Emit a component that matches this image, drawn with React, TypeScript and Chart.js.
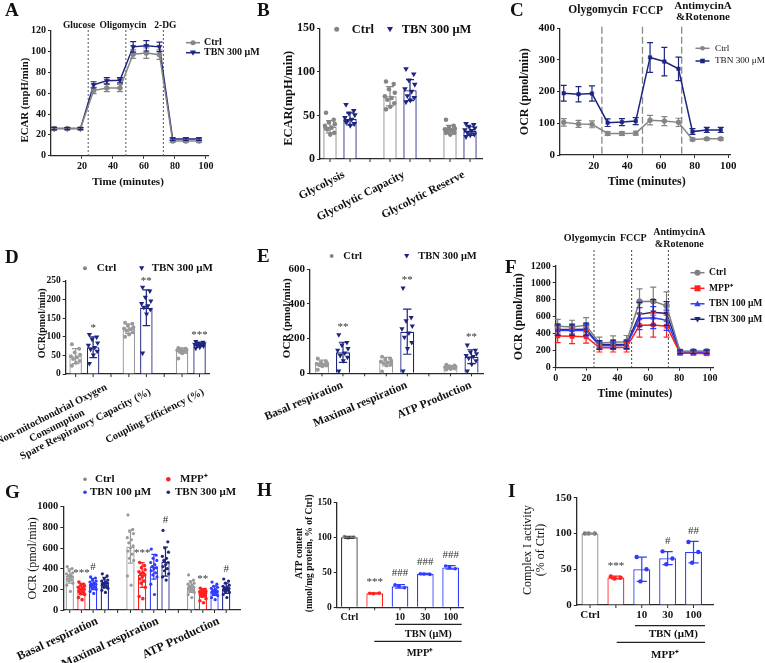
import React, { useEffect, useRef } from 'react';
import { Chart, registerables } from 'chart.js';

Chart.register(...registerables);

const W = 765;
const H = 663;
const SERIF = "'Liberation Serif', 'Times New Roman', serif";
const GRAY = '#858585';
const NAVY = '#1d2580';
const RED = '#ff2020';
const BLUE = '#2f3cff';
const AXIS = '#2b2b2b';

Chart.defaults.font.family = SERIF;
Chart.defaults.color = '#111';

// ---------------- A: ECAR time course ----------------
const timeA = [2, 10.5, 19, 27.5, 36, 44.5, 53, 61.5, 70, 78.5, 87, 95.5];
const ctrlA = [26, 26, 26, 62.5, 65, 65, 97.5, 98.5, 97, 14, 14, 14];
const ctrlAErr = [1.2, 1, 1, 3, 3.5, 3.5, 4, 5, 4.5, 1.2, 1.2, 1.2];
const tbnA = [26, 26, 26, 68, 72, 72.5, 104.5, 105.5, 104.5, 16, 16, 16];
const tbnAErr = [1.2, 1, 1, 3, 3, 2.5, 5, 5, 4.5, 1.2, 1.2, 1.2];
const injA = [24, 48.3, 72.5];
const injLabelsA = ['Glucose', 'Oligomycin', '2-DG'];
const yTicksA = [0, 20, 40, 60, 80, 100, 120];
const xTicksA = [20, 40, 60, 80, 100];

// ---------------- B: glycolysis parameters ----------------
const catB = ['Glycolysis', 'Glycolytic Capacity', 'Glycolytic Reserve'];
const ctrlB = [37, 72, 34];
const ctrlBSd = [7, 11, 4.5];
const tbnB = [46, 79, 32];
const tbnBSd = [7, 12, 5];
const ctrlBPts = [
  [53, 45, 42, 40, 38, 36, 34, 30, 28, 35],
  [89, 86, 80, 76, 72, 70, 68, 64, 60, 57],
  [45, 38, 36, 35, 34, 33, 32, 30, 28, 30],
];
const tbnBPts = [
  [62, 55, 52, 50, 47, 45, 43, 40, 38, 42],
  [103, 97, 90, 85, 80, 77, 72, 70, 67, 65],
  [40, 39, 37, 35, 33, 32, 30, 28, 27, 25],
];
const yTicksB = [0, 50, 100, 150];

// ---------------- C: OCR time course ----------------
const timeC = [2.2, 11, 19, 28.3, 36.8, 45, 53.5, 62, 70.4, 78.7, 87.2, 95.5];
const ctrlC = [103, 98, 97, 68, 68, 69, 110, 107, 103, 49, 51, 51];
const ctrlCErr = [12, 11, 11, 6, 6, 6, 15, 14, 13, 4, 4, 4];
const tbnC = [195, 192, 194, 102, 104, 107, 308, 295, 272, 74, 79, 79];
const tbnCErr = [25, 24, 24, 12, 11, 11, 47, 45, 37, 9, 8, 8];
const injC = [24.9, 49, 72.3];
const yTicksC = [0, 100, 200, 300, 400];
const xTicksC = [20, 40, 60, 80, 100];

// ---------------- D: OCR derived parameters ----------------
const catD = [['Non-mitochondrial Oxygen', 'Consumption'], 'Spare Respiratory Capacity (%)', 'Coupling Efficiency (%)'];
const ctrlD = [48, 122, 63];
const ctrlDSd = [20, 13, 7];
const tbnD = [72, 178, 79];
const tbnDSd = [28, 48, 5];
const ctrlDPts = [
  [80, 68, 58, 52, 48, 45, 40, 35, 30, 22],
  [138, 135, 130, 126, 122, 120, 116, 112, 106, 100],
  [70, 68, 66, 65, 64, 63, 61, 59, 56, 42],
];
const tbnDPts = [
  [105, 98, 92, 82, 76, 70, 65, 60, 50, 27],
  [232, 222, 205, 195, 188, 182, 178, 172, 160, 55],
  [86, 84, 82, 80, 79, 78, 76, 74, 71, 68],
];
const sigD = ['*', '**', '***'];
const yTicksD = [0, 50, 100, 150, 200, 250];

// ---------------- E: respiration ----------------
const catE = ['Basal respiration', 'Maximal respiration', 'ATP Production'];
const ctrlE = [58, 67, 35];
const ctrlESd = [18, 25, 9];
const tbnE = [121, 240, 96];
const tbnESd = [58, 130, 40];
const ctrlEPts = [
  [85, 70, 62, 58, 55, 50, 48, 45, 40, 20],
  [95, 85, 78, 72, 68, 62, 58, 50, 45, 10],
  [50, 45, 40, 38, 35, 33, 30, 28, 25, 22],
];
const tbnEPts = [
  [220, 175, 160, 140, 130, 115, 100, 90, 70, 10],
  [490, 320, 300, 270, 255, 230, 205, 175, 140, 10],
  [160, 130, 120, 110, 100, 95, 85, 70, 50, 10],
];
const sigE = ['**', '**', '**'];
const yTicksE = [0, 200, 400, 600];

// ---------------- F: OCR time course, 4 groups ----------------
const timeF = [1.3, 10.6, 19.7, 28.3, 37.2, 45.9, 54.3, 63.2, 71.8, 80.6, 89.2, 97.8];
const ctrlF = [490, 480, 500, 290, 300, 305, 780, 785, 730, 190, 195, 195];
const ctrlFErr = [80, 80, 90, 70, 75, 75, 150, 165, 165, 20, 20, 20];
const mppF = [375, 370, 365, 235, 235, 240, 500, 505, 490, 170, 170, 165];
const mppFErr = [80, 85, 75, 50, 50, 55, 140, 145, 130, 20, 20, 20];
const t100F = [440, 440, 440, 260, 260, 265, 580, 590, 560, 180, 180, 180];
const t100FErr = [60, 60, 65, 45, 45, 45, 130, 130, 120, 20, 20, 20];
const t300F = [450, 450, 455, 270, 275, 275, 630, 655, 640, 190, 190, 190];
const t300FErr = [65, 65, 70, 50, 50, 50, 140, 150, 140, 20, 20, 20];
const injF = [24.8, 49.2, 73];
const yTicksF = [0, 200, 400, 600, 800, 1000, 1200];
const xTicksF = [0, 20, 40, 60, 80, 100];

// ---------------- G: respiration, 4 groups ----------------
const catG = ['Basal respiration', 'Maximal respiration', 'ATP Production'];
const ctrlG = [329, 613, 226];
const ctrlGSd = [70, 160, 55];
const mppG = [203, 339, 168];
const mppGSd = [55, 120, 40];
const t100G = [252, 419, 187];
const t100GSd = [55, 120, 45];
const t300G = [265, 468, 210];
const t300GSd = [50, 140, 50];
const ctrlGPts = [
  [420, 400, 380, 360, 350, 340, 330, 320, 310, 300, 290, 280, 260, 240, 180],
  [920, 780, 760, 740, 700, 680, 650, 620, 600, 570, 540, 500, 480, 330, 240],
  [340, 290, 270, 260, 250, 240, 230, 220, 210, 200, 190, 180, 170, 150, 120],
];
const mppGPts = [
  [270, 250, 240, 230, 220, 210, 200, 200, 190, 180, 170, 160, 150, 120, 100],
  [460, 430, 410, 390, 370, 360, 350, 340, 320, 300, 280, 260, 220, 130, 110],
  [210, 200, 190, 180, 175, 170, 165, 160, 155, 150, 140, 130, 110, 90, 70],
];
const t100GPts = [
  [320, 310, 290, 280, 270, 260, 250, 250, 240, 230, 220, 210, 200, 180, 160],
  [590, 530, 500, 480, 460, 440, 420, 410, 400, 380, 360, 340, 320, 250, 150],
  [270, 250, 230, 220, 210, 200, 190, 180, 175, 170, 160, 150, 140, 120, 100],
];
const t300GPts = [
  [350, 330, 300, 290, 280, 270, 260, 260, 250, 240, 230, 220, 210, 190, 170],
  [770, 660, 600, 560, 520, 500, 480, 460, 440, 420, 400, 380, 350, 320, 290],
  [300, 280, 260, 240, 230, 220, 215, 210, 200, 195, 190, 180, 170, 150, 120],
];
const sigMppG = ['***', '***', '**'];
const sigT100G = ['#', '', ''];
const sigT300G = ['', '#', '#'];
const yTicksG = [0, 200, 400, 600, 800, 1000];

// ---------------- H: ATP content ----------------
const catH = ['Ctrl', '', '10', '30', '100'];
const atpH = [100, 20, 30, 47.5, 57];
const atpHSd = [1.5, 0.8, 2.5, 1, 2.5];
const atpHPts = [[101, 100, 99], [20, 20.5, 19.5], [32, 28, 30], [48, 47, 47.5], [59, 55, 57]];
const sigH = ['', '***', '###', '###', '###'];
const yTicksH = [0, 50, 100, 150];

// ---------------- I: complex I activity ----------------
const catI = ['Ctrl', '', '10', '30', '100'];
const c1I = [100, 38.5, 50, 65.5, 74];
const c1ISd = [0.5, 2, 17, 9, 15];
const c1IPts = [[100, 100, 100], [40, 38, 37], [67, 50, 33], [75, 65, 57], [88, 74, 59]];
const sigI = ['', '***', '', '#', '##'];
const yTicksI = [0, 50, 100, 150];

// ====================================================
const JIT = [-0.3, 0.28, -0.08, 0.36, -0.38, 0.12, -0.2, 0.32, 0.02, -0.3, 0.22, -0.12, 0.38, -0.36, 0.08];
const pick = (v: any, i: number) => (Array.isArray(v) ? v[i] : v);

function drawMarker(ctx: any, kind: string, x: number, y: number, r: number, color: string) {
  ctx.save();
  ctx.fillStyle = color;
  ctx.beginPath();
  if (kind === 'triDown') {
    ctx.moveTo(x - r, y - r * 0.75);
    ctx.lineTo(x + r, y - r * 0.75);
    ctx.lineTo(x, y + r);
    ctx.closePath();
  } else if (kind === 'triUp') {
    ctx.moveTo(x - r, y + r * 0.75);
    ctx.lineTo(x + r, y + r * 0.75);
    ctx.lineTo(x, y - r);
    ctx.closePath();
  } else if (kind === 'square') {
    ctx.rect(x - r, y - r, 2 * r, 2 * r);
  } else {
    ctx.arc(x, y, r, 0, Math.PI * 2);
  }
  ctx.fill();
  ctx.restore();
}

function drawText(ctx: any, it: any) {
  ctx.save();
  ctx.font = `${it.bold === false ? '' : 'bold '}${it.size}px ${SERIF}`;
  ctx.fillStyle = it.color || '#111';
  ctx.textAlign = it.align || 'center';
  ctx.textBaseline = 'middle';
  ctx.translate(it.x, it.y);
  if (it.rot) ctx.rotate((it.rot * Math.PI) / 180);
  ctx.fillText(it.t, 0, 0);
  ctx.restore();
}

function extras(spec: any) {
  return {
    id: 'extras',
    beforeDatasetsDraw(chart: any) {
      const { ctx, chartArea, scales } = chart;
      const vl = spec.vlines;
      if (vl) {
        ctx.save();
        ctx.strokeStyle = vl.color;
        ctx.lineWidth = vl.width || 1;
        ctx.setLineDash(vl.dash);
        vl.xs.forEach((v: number) => {
          const x = scales.x.getPixelForValue(v);
          ctx.beginPath();
          ctx.moveTo(x, vl.top);
          ctx.lineTo(x, chartArea.bottom);
          ctx.stroke();
        });
        ctx.restore();
      }
    },
    afterDatasetsDraw(chart: any) {
      const { ctx, scales } = chart;
      const ys = scales.y;
      chart.data.datasets.forEach((ds: any, di: number) => {
        const meta = chart.getDatasetMeta(di);
        meta.data.forEach((el: any, i: number) => {
          const v = ds.data[i].y;
          if (ds.pts) {
            ds.pts[i].forEach((p: number, k: number) =>
              drawMarker(ctx, pick(ds.mk, i), el.x + JIT[k % JIT.length] * el.width, ys.getPixelForValue(p), ds.mr, pick(ds.ptColor, i)),
            );
          }
          const e = ds.err ? ds.err[i] : ds.sd ? ds.sd[i] : null;
          if (e != null) {
            const col = pick(ds.borderColor, i);
            const cap = ds.err ? ds.cap || 3 : el.width * 0.3;
            const y1 = ys.getPixelForValue(v + e);
            const y2 = ys.getPixelForValue(v - e);
            ctx.save();
            ctx.strokeStyle = col;
            ctx.lineWidth = ds.errWidth || 1.2;
            ctx.beginPath();
            ctx.moveTo(el.x, y1);
            ctx.lineTo(el.x, y2);
            ctx.moveTo(el.x - cap, y1);
            ctx.lineTo(el.x + cap, y1);
            ctx.moveTo(el.x - cap, y2);
            ctx.lineTo(el.x + cap, y2);
            ctx.stroke();
            ctx.restore();
          }
        });
      });
    },
    afterDraw(chart: any) {
      const { ctx, chartArea, scales } = chart;
      const ys = scales.y;
      if (spec.barTicks) {
        const metas = chart.data.datasets.map((_: any, di: number) => chart.getDatasetMeta(di));
        const n = metas[0].data.length;
        const xs: number[] = [];
        for (let i = 0; i < n; i++) {
          metas.forEach((m: any) => xs.push(m.data[i].x));
          if (metas.length > 1 && i < n - 1) xs.push((metas[metas.length - 1].data[i].x + metas[0].data[i + 1].x) / 2);
        }
        ctx.save();
        ctx.strokeStyle = AXIS;
        ctx.lineWidth = 1;
        xs.forEach((x) => {
          ctx.beginPath();
          ctx.moveTo(x, chartArea.bottom);
          ctx.lineTo(x, chartArea.bottom + 3);
          ctx.stroke();
        });
        ctx.restore();
      }
      // significance marks above groups
      (spec.marks || []).forEach((m: any) => {
        const ds = chart.data.datasets[m.ds];
        const meta = chart.getDatasetMeta(m.ds);
        m.labels.forEach((t: string, i: number) => {
          if (!t) return;
          const el = meta.data[i];
          const top = Math.max(ds.data[i].y + (ds.sd ? ds.sd[i] : 0), ...(ds.pts ? ds.pts[i] : [0]));
          drawText(ctx, { t, x: el.x, y: ys.getPixelForValue(top) - m.gap, size: m.size, bold: false, color: '#333' });
        });
      });
      (spec.hlines || []).forEach((l: any) => {
        ctx.save();
        ctx.strokeStyle = '#222';
        ctx.lineWidth = 1.2;
        ctx.beginPath();
        ctx.moveTo(l.x1, l.y);
        ctx.lineTo(l.x2, l.y);
        ctx.stroke();
        ctx.restore();
      });
      (spec.legend || []).forEach((L: any) => {
        if (L.line) {
          ctx.save();
          ctx.strokeStyle = L.color;
          ctx.lineWidth = 1.5;
          ctx.beginPath();
          ctx.moveTo(L.x - 7, L.y);
          ctx.lineTo(L.x + 7, L.y);
          ctx.stroke();
          ctx.restore();
        }
        drawMarker(ctx, L.mk, L.x, L.y, L.r || 2.8, L.color);
        drawText(ctx, { t: L.t, x: L.tx, y: L.y, size: L.size, bold: L.bold, align: 'left' });
      });
      (spec.texts || []).forEach((t: any) => drawText(ctx, t));
    },
  };
}

const font = (size: number, bold = true) => ({ family: SERIF, size, weight: bold ? 'bold' : 'normal' });
const plain = (v: any) => String(v);

function yAxis(area: any, min: number, max: number, vals: number[], size: number) {
  return {
    type: 'linear',
    min,
    max,
    afterFit: (s: any) => {
      s.width = area.l;
      s.paddingTop = 0;
      s.paddingBottom = 0;
    },
    afterBuildTicks: (s: any) => {
      s.ticks = vals.map((v) => ({ value: v }));
    },
    ticks: { font: font(size), color: '#111', padding: 2, autoSkip: false, callback: plain },
    grid: { drawOnChartArea: false, drawTicks: true, tickLength: 3, color: AXIS, lineWidth: 1 },
    border: { color: AXIS, width: 1.3 },
  };
}

function xLin(area: any, max: number, vals: number[], size: number) {
  return {
    type: 'linear',
    min: 0,
    max,
    afterFit: (s: any) => {
      s.height = H - area.b;
      s.paddingLeft = 0;
      s.paddingRight = 0;
    },
    afterBuildTicks: (s: any) => {
      s.ticks = vals.map((v) => ({ value: v }));
    },
    ticks: { font: font(size), color: '#111', padding: 2, autoSkip: false, maxRotation: 0, callback: plain },
    grid: { drawOnChartArea: false, drawTicks: true, tickLength: 3, color: AXIS, lineWidth: 1 },
    border: { color: AXIS, width: 1.3 },
  };
}

function xBar(area: any, min: number, max: number, labels: any[], size: number, rot: number, offset: number, pad: number, fmt?: (l: any, i: number) => any) {
  return {
    type: 'linear',
    min,
    max,
    offset: false,
    afterFit: (s: any) => {
      s.height = H - area.b;
      s.paddingLeft = 0;
      s.paddingRight = 0;
    },
    afterBuildTicks: (s: any) => {
      s.ticks = labels.map((_, i) => ({ value: i + 1 }));
    },
    ticks: {
      callback: (v: number) => {
        const i = Math.round(v) - 1;
        return fmt ? fmt(labels[i], i) : labels[i];
      },
      font: font(size),
      color: '#111',
      minRotation: rot,
      maxRotation: rot,
      autoSkip: false,
      padding: pad,
      labelOffset: offset,
    },
    grid: { offset: false, drawOnChartArea: false, drawTicks: false, color: AXIS },
    border: { color: AXIS, width: 1.3 },
  };
}

function cfg(type: string, area: any, datasets: any[], x: any, y: any, spec: any) {
  return {
    type,
    data: { datasets },
    options: {
      responsive: false,
      animation: false,
      events: [],
      layout: { padding: { left: 0, top: area.t, right: W - area.r, bottom: 0 } },
      plugins: { legend: { display: false }, tooltip: { enabled: false } },
      scales: { x, y },
    },
    plugins: [extras(spec)],
  };
}

function lineDs(xs: number[], vals: number[], err: number[], color: string, style: string, r: number, rot = 0) {
  return {
    data: xs.map((x, i) => ({ x, y: vals[i] })),
    err,
    cap: 3,
    borderColor: color,
    backgroundColor: color,
    pointBackgroundColor: color,
    pointBorderColor: color,
    pointStyle: style,
    pointRadius: r,
    pointRotation: rot,
    pointBorderWidth: 0.5,
    borderWidth: 1.5,
    tension: 0,
    clip: false,
  };
}

function barDs(means: number[], sd: number[], pts: number[][], color: any, mk: string, mr: number, cp: number, bp: number, ptColor?: any) {
  return {
    data: means.map((y, i) => ({ x: i + 1, y })),
    sd,
    pts,
    mk,
    mr,
    ptColor: ptColor || color,
    backgroundColor: '#ffffff',
    borderColor: color,
    borderWidth: 1.3,
    categoryPercentage: cp,
    barPercentage: bp,
    clip: false,
  };
}

const letter = (t: string, x: number, y: number) => ({ t, x, y, size: 19, align: 'left' });

// ---------------- panel builders ----------------
function makeA() {
  const area = { l: 51, t: 30.7, r: 208, b: 155.7 };
  return cfg(
    'line',
    area,
    [lineDs(timeA, ctrlA, ctrlAErr, GRAY, 'circle', 2.5), lineDs(timeA, tbnA, tbnAErr, NAVY, 'triangle', 3, 180)],
    xLin(area, 101.3, xTicksA, 10),
    yAxis(area, 0, 120, yTicksA, 10),
    {
      vlines: { xs: injA, top: 30, color: '#555', dash: [2, 2] },
      texts: [
        letter('A', 5, 11),
        { t: injLabelsA[0], x: 79, y: 25.7, size: 9.5 },
        { t: injLabelsA[1], x: 123, y: 25.7, size: 9.5 },
        { t: injLabelsA[2], x: 165.3, y: 25.7, size: 9.5 },
        { t: 'Time (minutes)', x: 128, y: 181.7, size: 11 },
        { t: 'ECAR (mpH/min)', x: 25, y: 100, size: 10.8, rot: -90 },
      ],
      legend: [
        { t: 'Ctrl', x: 193, y: 42.7, color: GRAY, mk: 'circle', r: 2.5, line: true, size: 10, tx: 204 },
        { t: 'TBN 300 μM', x: 193, y: 52.7, color: NAVY, mk: 'triDown', r: 3, line: true, size: 10, tx: 204 },
      ],
    },
  );
}

function makeB() {
  const area = { l: 320, t: 28.3, r: 482, b: 159 };
  return cfg(
    'bar',
    area,
    [
      barDs(ctrlB, ctrlBSd, ctrlBPts, GRAY, 'circle', 2.3, 0.667, 0.667),
      barDs(tbnB, tbnBSd, tbnBPts, NAVY, 'triDown', 2.8, 0.667, 0.667),
    ],
    xBar(area, 0.6667, 3.3667, catB, 11.5, 27, 4, 9),
    yAxis(area, 0, 150, yTicksB, 12),
    {
      barTicks: true,
      texts: [letter('B', 257, 11), { t: 'ECAR(mpH/min)', x: 288.3, y: 98.3, size: 12.5, rot: -90 }],
      legend: [
        { t: 'Ctrl', x: 336.7, y: 29.3, color: GRAY, mk: 'circle', r: 2.5, size: 12.5, tx: 351.7 },
        { t: 'TBN 300 μM', x: 390, y: 29.3, color: NAVY, mk: 'triDown', r: 3, size: 12.5, tx: 401.7 },
      ],
    },
  );
}

function makeC() {
  const area = { l: 560, t: 28.3, r: 730, b: 155 };
  return cfg(
    'line',
    area,
    [lineDs(timeC, ctrlC, ctrlCErr, GRAY, 'circle', 2.5), lineDs(timeC, tbnC, tbnCErr, NAVY, 'rect', 2.5)],
    xLin(area, 101, xTicksC, 11),
    yAxis(area, 0, 400, yTicksC, 11),
    {
      vlines: { xs: injC, top: 26.7, color: '#8a8a8a', dash: [7, 3], width: 1.3 },
      texts: [
        letter('C', 510, 11),
        { t: 'Olygomycin', x: 598, y: 10.5, size: 11.5 },
        { t: 'FCCP', x: 647.7, y: 11.2, size: 11.5 },
        { t: 'AntimycinA', x: 703, y: 6.3, size: 11 },
        { t: '&Rotenone', x: 703, y: 16.7, size: 11 },
        { t: 'Time (minutes)', x: 646.7, y: 181.7, size: 12 },
        { t: 'OCR (pmol/min)', x: 525, y: 91.7, size: 12, rot: -90 },
      ],
      legend: [
        { t: 'Ctrl', x: 702.5, y: 48.3, color: GRAY, mk: 'circle', r: 2.3, line: true, size: 9.2, bold: false, tx: 715 },
        { t: 'TBN 300 μM', x: 702.5, y: 61, color: NAVY, mk: 'square', r: 2.3, line: true, size: 9.2, bold: false, tx: 715 },
      ],
    },
  );
}

function makeD() {
  const area = { l: 65.7, t: 281, r: 210, b: 374 };
  // first label: second line centred under the first; others nudged left to keep their ends near the groups
  const fmtD = (l: any, i: number) => (i === 0 ? [l[0], l[1] + ' '.repeat(12)] : l + ' '.repeat(4));
  return cfg(
    'bar',
    area,
    [
      barDs(ctrlD, ctrlDSd, ctrlDPts, '#9a9a9a', 'circle', 2, 0.658, 0.714),
      barDs(tbnD, tbnDSd, tbnDPts, NAVY, 'triDown', 2.6, 0.658, 0.714),
    ],
    xBar(area, 0.6485, 3.361, catD, 10.5, 27, 22, 7, fmtD),
    yAxis(area, 0, 250, yTicksD, 9.5),
    {
      barTicks: true,
      marks: [{ ds: 1, labels: sigD, gap: 7, size: 11 }],
      texts: [letter('D', 5, 258.3), { t: 'OCR(pmol/min)', x: 42.7, y: 323.3, size: 10, rot: -90 }],
      legend: [
        { t: 'Ctrl', x: 85, y: 268.3, color: GRAY, mk: 'circle', r: 2, size: 11, tx: 96.7 },
        { t: 'TBN 300 μM', x: 141.7, y: 268.3, color: NAVY, mk: 'triDown', r: 2.6, size: 11, tx: 151.7 },
      ],
    },
  );
}

function makeE() {
  const area = { l: 310, t: 269.3, r: 483.3, b: 373.3 };
  return cfg(
    'bar',
    area,
    [
      barDs(ctrlE, ctrlESd, ctrlEPts, '#9a9a9a', 'circle', 2, 0.654, 0.667),
      barDs(tbnE, tbnESd, tbnEPts, NAVY, 'triDown', 2.6, 0.654, 0.667),
    ],
    xBar(area, 0.65, 3.347, catE, 11.5, 23, 10, 5),
    yAxis(area, 0, 600, yTicksE, 11),
    {
      barTicks: true,
      marks: [{ ds: 1, labels: sigE, gap: 8, size: 11 }],
      texts: [letter('E', 257, 256.7), { t: 'OCR (pmol/min)', x: 286.7, y: 318.3, size: 11, rot: -90 }],
      legend: [
        { t: 'Ctrl', x: 331.7, y: 256, color: GRAY, mk: 'circle', r: 2, size: 10.5, tx: 343.3 },
        { t: 'TBN 300 μM', x: 406.7, y: 256, color: NAVY, mk: 'triDown', r: 2.6, size: 10.5, tx: 418.3 },
      ],
    },
  );
}

function makeF() {
  const area = { l: 555.7, t: 266, r: 713, b: 367.7 };
  return cfg(
    'line',
    area,
    [
      lineDs(timeF, ctrlF, ctrlFErr, '#7f7f7f', 'circle', 3),
      lineDs(timeF, mppF, mppFErr, RED, 'rect', 3),
      lineDs(timeF, t100F, t100FErr, BLUE, 'triangle', 3),
      lineDs(timeF, t300F, t300FErr, NAVY, 'triangle', 3, 180),
    ],
    xLin(area, 101.9, xTicksF, 10),
    yAxis(area, 0, 1200, yTicksF, 10),
    {
      vlines: { xs: injF, top: 250, color: '#444', dash: [2, 2] },
      texts: [
        letter('F', 505, 268),
        { t: 'Olygomycin', x: 589.7, y: 238.3, size: 10 },
        { t: 'FCCP', x: 633.3, y: 238.3, size: 10 },
        { t: 'AntimycinA', x: 679.3, y: 232.3, size: 10 },
        { t: '&Rotenone', x: 679.3, y: 244, size: 10 },
        { t: 'Time (minutes)', x: 635, y: 394.3, size: 11.5 },
        { t: 'OCR (pmol/min)', x: 519.3, y: 316.7, size: 12, rot: -90 },
      ],
      legend: [
        { t: 'Ctrl', x: 697.5, y: 272.7, color: '#7f7f7f', mk: 'circle', r: 3, line: true, size: 9.6, tx: 709 },
        { t: 'MPP⁺', x: 697.5, y: 288.3, color: RED, mk: 'square', r: 3, line: true, size: 9.6, tx: 709 },
        { t: 'TBN 100 μM', x: 697.5, y: 303.8, color: BLUE, mk: 'triUp', r: 3.2, line: true, size: 9.6, tx: 709 },
        { t: 'TBN 300 μM', x: 697.5, y: 319.3, color: NAVY, mk: 'triDown', r: 3.2, line: true, size: 9.6, tx: 709 },
      ],
    },
  );
}

function makeG() {
  const area = { l: 63.3, t: 506.7, r: 240, b: 610 };
  const cp = 0.77;
  const bp = 0.71;
  return cfg(
    'bar',
    area,
    [
      barDs(ctrlG, ctrlGSd, ctrlGPts, '#9a9a9a', 'circle', 1.6, cp, bp),
      barDs(mppG, mppGSd, mppGPts, RED, 'circle', 1.8, cp, bp),
      barDs(t100G, t100GSd, t100GPts, BLUE, 'circle', 1.6, cp, bp),
      barDs(t300G, t300GSd, t300GPts, NAVY, 'circle', 1.6, cp, bp),
    ],
    xBar(area, 0.605, 3.516, catG, 12, 25, 10, 4),
    yAxis(area, 0, 1000, yTicksG, 10.5),
    {
      barTicks: true,
      marks: [
        { ds: 1, labels: sigMppG, gap: 9, size: 11 },
        { ds: 2, labels: sigT100G, gap: 10, size: 11 },
        { ds: 3, labels: sigT300G, gap: 10, size: 11 },
      ],
      texts: [letter('G', 5, 493.3), { t: 'OCR (pmol/min)', x: 33.3, y: 558.3, size: 12, bold: false, rot: -90 }],
      legend: [
        { t: 'Ctrl', x: 85, y: 479.3, color: GRAY, mk: 'circle', r: 1.8, size: 11, tx: 95 },
        { t: 'MPP⁺', x: 168.3, y: 479.3, color: RED, mk: 'circle', r: 2.3, size: 11, tx: 180 },
        { t: 'TBN 100 μM', x: 85, y: 492.3, color: BLUE, mk: 'circle', r: 1.8, size: 11, tx: 90 },
        { t: 'TBN 300 μM', x: 168.3, y: 492.3, color: NAVY, mk: 'circle', r: 1.8, size: 11, tx: 175 },
      ],
    },
  );
}

function makeH() {
  const area = { l: 336.7, t: 502.3, r: 463.3, b: 607.3 };
  const cols = ['#3a3a3a', RED, BLUE, BLUE, BLUE];
  const ptCols = [GRAY, RED, BLUE, BLUE, BLUE];
  return cfg(
    'bar',
    area,
    [barDs(atpH, atpHSd, atpHPts, cols, 'circle', 1.8, 1, 0.66, ptCols)],
    xBar(area, 0.5, 5.5, catH, 10, 0, 0, 4),
    yAxis(area, 0, 150, yTicksH, 9.5),
    {
      barTicks: true,
      marks: [{ ds: 0, labels: sigH, gap: 11, size: 11 }],
      hlines: [
        { x1: 395, x2: 461.7, y: 624.3 },
        { x1: 374.3, x2: 461.7, y: 641.3 },
      ],
      texts: [
        letter('H', 257, 490.8),
        { t: 'ATP content', x: 299.5, y: 553.3, size: 9.5, rot: -90 },
        { t: '(nmol/mg protein, % of Ctrl)', x: 310, y: 553.3, size: 9.5, rot: -90 },
        { t: 'TBN (μM)', x: 428.3, y: 634, size: 10.5 },
        { t: 'MPP⁺', x: 420, y: 653.3, size: 10.5 },
      ],
    },
  );
}

function makeI() {
  const area = { l: 576.7, t: 497.7, r: 713.3, b: 605 };
  const cols = ['#8a8a8a', RED, BLUE, BLUE, BLUE];
  const ptCols = ['#777777', RED, BLUE, BLUE, BLUE];
  return cfg(
    'bar',
    area,
    [barDs(c1I, c1ISd, c1IPts, cols, 'circle', 2.2, 1, 0.656, ptCols)],
    xBar(area, 0.486, 5.764, catI, 11, 0, 0, 3.5),
    yAxis(area, 0, 150, yTicksI, 11),
    {
      barTicks: true,
      marks: [{ ds: 0, labels: sigI, gap: 10, size: 11 }],
      hlines: [
        { x1: 635, x2: 705, y: 625.7 },
        { x1: 616.7, x2: 705, y: 642.3 },
      ],
      texts: [
        letter('I', 508, 492.5),
        { t: 'Complex I activity', x: 528.3, y: 550, size: 12, bold: false, rot: -90 },
        { t: '(% of Ctrl)', x: 541, y: 550, size: 12, bold: false, rot: -90 },
        { t: 'TBN (μM)', x: 673.3, y: 634, size: 11 },
        { t: 'MPP⁺', x: 665, y: 655, size: 11 },
      ],
    },
  );
}

const MAKERS = [makeA, makeB, makeC, makeD, makeE, makeF, makeG, makeH, makeI];

function Panel({ make }: { make: () => any }) {
  const ref = useRef<HTMLCanvasElement>(null);
  useEffect(() => {
    const chart = new Chart(ref.current as HTMLCanvasElement, make() as any);
    return () => chart.destroy();
  }, [make]);
  return (
    <canvas
      ref={ref}
      width={W}
      height={H}
      style={{ position: 'absolute', left: 0, top: 0, width: W, height: H }}
    />
  );
}

export default function App() {
  return (
    <div style={{ position: 'fixed', left: 0, top: 0, width: W, height: H, background: '#ffffff', overflow: 'hidden' }}>
      {MAKERS.map((m, i) => (
        <Panel key={i} make={m} />
      ))}
    </div>
  );
}
